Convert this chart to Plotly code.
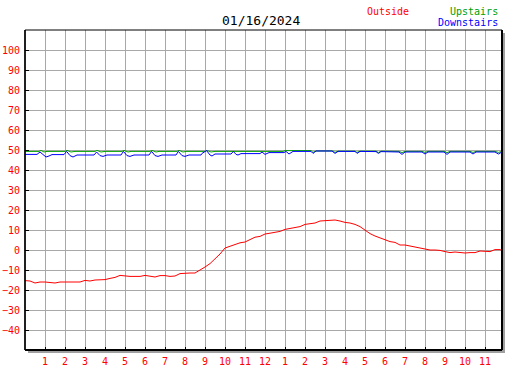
import plotly.graph_objects as go

# ---- data (hours since midnight, temperature) ----
outside_h = [0, 0.25, 0.5, 0.75, 1.0, 1.25, 1.5, 1.75, 2.0, 2.25, 2.5, 2.75, 3.0, 3.25, 3.5, 3.75,
             4.0, 4.25, 4.5, 4.75, 5.0, 5.25, 5.5, 5.75, 6.0, 6.25, 6.5, 6.75, 7.0, 7.25, 7.5, 7.75,
             8.0, 8.25, 8.5, 8.75, 9.0, 9.25, 9.5, 9.75, 10.0, 10.25, 10.5, 10.75, 11.0, 11.25, 11.5, 11.75,
             12.0, 12.25, 12.5, 12.75, 13.0, 13.25, 13.5, 13.75, 14.0, 14.25, 14.5, 14.75, 15.0, 15.25, 15.5, 15.75,
             16.0, 16.25, 16.5, 16.75, 17.0, 17.25, 17.5, 17.75, 18.0, 18.25, 18.5, 18.75, 19.0, 19.25, 19.5, 19.75,
             20.0, 20.25, 20.5, 20.75, 21.0, 21.25, 21.5, 21.75, 22.0, 22.25, 22.5, 22.75, 23.0, 23.25, 23.5, 23.75, 23.85]
outside_v = [-15.3, -15.5, -16.5, -16.0, -16.0, -16.2, -16.5, -16.0, -16.0, -16.0, -16.0, -16.0, -15.2, -15.5, -15.0, -15.0,
             -14.8, -14.2, -13.7, -12.7, -13.0, -13.2, -13.2, -13.2, -12.7, -13.0, -13.5, -12.8, -12.8, -13.2, -13.0, -11.8,
             -11.5, -11.5, -11.5, -10.2, -8.5, -6.8, -4.5, -2.0, 1.0, 2.0, 3.0, 3.6, 4.0, 5.2, 6.4, 6.8,
             8.0, 8.4, 9.0, 9.3, 10.3, 10.8, 11.2, 11.7, 12.8, 13.0, 13.5, 14.5, 14.6, 15.0, 15.0, 14.5,
             13.8, 13.5, 12.8, 11.7, 10.0, 8.2, 7.0, 6.0, 5.0, 4.2, 3.8, 2.5, 2.5, 2.0, 1.2, 0.8,
             0.3, 0.0, 0.0, -0.2, -0.8, -1.3, -1.0, -1.3, -1.5, -1.3, -1.3, -0.5, -0.8, -0.8, 0.2, 0.2, -0.3]

upstairs_h = [0, 0.7, 0.8, 0.95, 1.1, 2.0, 2.1, 2.3, 2.5, 3.5, 3.6, 3.8, 4.0, 4.85, 4.95, 5.15, 5.3,
              6.25, 6.35, 6.55, 6.7, 7.6, 7.7, 7.9, 8.05, 9.0, 9.1, 9.3, 9.5, 12.9, 13.0, 14.3, 14.4, 14.55,
              15.4, 15.5, 15.65, 16.5, 16.6, 16.75, 17.55, 17.67, 17.8, 18.7, 18.85, 19.0, 19.85, 20.0, 20.15,
              20.95, 21.1, 21.25, 22.25, 22.4, 22.55, 23.5, 23.67, 23.85]
upstairs_v = [49.3, 49.3, 49.8, 49.0, 49.3, 49.3, 49.8, 49.0, 49.3, 49.3, 49.8, 49.0, 49.3, 49.3, 49.8, 49.0, 49.3,
              49.3, 49.8, 49.0, 49.3, 49.3, 49.8, 49.0, 49.3, 49.3, 49.8, 49.0, 49.3, 49.3, 49.7, 49.7, 48.8, 49.5,
              49.5, 48.8, 49.4, 49.4, 48.8, 49.4, 49.4, 48.8, 49.4, 49.3, 48.7, 49.3, 49.3, 48.8, 49.3,
              49.3, 48.7, 49.3, 49.3, 48.8, 49.3, 49.3, 48.8, 49.3]

downstairs_h = [0, 0.6, 0.75, 0.9, 1.05, 1.2, 1.35, 1.95, 2.08, 2.25, 2.4, 2.6, 3.45, 3.58, 3.75, 3.9, 4.1,
                4.8, 4.92, 5.1, 5.25, 5.45, 6.2, 6.33, 6.5, 6.65, 6.85, 7.55, 7.67, 7.85, 8.0, 8.2, 8.8, 8.85,
                9.08, 9.25, 9.35, 9.5, 10.3, 10.42, 10.55, 10.65, 10.8, 11.75, 11.85, 12.0, 12.2, 12.95, 13.05,
                13.2, 13.4, 14.3, 14.4, 14.55, 15.35, 15.5, 15.65, 16.5, 16.6, 16.75, 17.55, 17.67, 17.8,
                18.7, 18.85, 19.0, 19.85, 20.0, 20.15, 20.95, 21.1, 21.25, 22.25, 22.4, 22.55, 23.5, 23.67, 23.85]
downstairs_v = [47.8, 47.8, 49.0, 47.5, 46.5, 47.0, 47.7, 47.7, 49.3, 47.2, 46.5, 47.5, 47.5, 49.0, 47.2, 46.8, 47.5,
                47.5, 49.3, 47.2, 46.8, 47.5, 47.5, 49.3, 47.2, 46.8, 47.5, 47.5, 49.3, 47.2, 46.8, 47.5, 47.5, 48.3,
                49.7, 47.5, 47.0, 48.0, 48.0, 49.3, 47.8, 47.5, 48.2, 48.2, 49.0, 47.8, 48.7, 48.7, 49.3,
                48.0, 49.3, 49.3, 48.3, 49.5, 49.5, 48.3, 49.3, 49.3, 48.3, 49.3, 49.2, 48.3, 49.2,
                49.0, 47.8, 49.0, 49.0, 48.0, 49.0, 49.0, 47.8, 49.0, 49.0, 48.0, 49.0, 49.0, 48.0, 49.0]

x_tickvals = list(range(1, 24))
x_ticktext = [str(i) for i in range(1, 12)] + ["12"] + [str(i) for i in range(1, 12)]
y_tickvals = list(range(-40, 101, 10))

title_text = "01/16/2024"
FONT = "DejaVu Sans Mono"

W, H = 527, 370
L, R, T, B = 25, 502, 30, 350  # plot area in pixels

def px(xp):
    return (xp - L) / (R - L)

def py(yp):
    return (B - yp) / (B - T)

fig = go.Figure()
fig.add_trace(go.Scatter(x=outside_h, y=outside_v, mode="lines", name="Outside",
                         line=dict(color="#ff0000", width=1)))
fig.add_trace(go.Scatter(x=upstairs_h, y=upstairs_v, mode="lines", name="Upstairs",
                         line=dict(color="#00a000", width=1)))
fig.add_trace(go.Scatter(x=downstairs_h, y=downstairs_v, mode="lines", name="Downstairs",
                         line=dict(color="#0000ff", width=1)))

shapes = [
    # shadow
    dict(type="rect", xref="paper", yref="paper", x0=px(R), x1=px(R + 3), y0=py(B + 3), y1=py(T + 3),
         fillcolor="#a0a0a0", line=dict(width=0), layer="below"),
    dict(type="rect", xref="paper", yref="paper", x0=px(L + 3), x1=px(R + 3), y0=py(B + 3), y1=py(B),
         fillcolor="#a0a0a0", line=dict(width=0), layer="below"),
    # frame
    dict(type="rect", xref="paper", yref="paper", x0=0, x1=1, y0=0, y1=1,
         line=dict(color="black", width=1)),
    dict(type="line", xref="paper", yref="paper", x0=0, x1=1, y0=0, y1=0,
         line=dict(color="black", width=2)),
    dict(type="line", xref="paper", yref="paper", x0=1, x1=1, y0=0, y1=1,
         line=dict(color="black", width=2)),
    dict(type="line", xref="paper", yref="paper", x0=0, x1=0, y0=0, y1=1,
         line=dict(color="black", width=1.5)),
]

annotations = [
    dict(text=title_text, xref="paper", yref="paper", x=px(261), y=py(20), showarrow=False,
         xanchor="center", yanchor="middle", font=dict(family=FONT, size=13, color="black")),
    dict(text="Outside", xref="paper", yref="paper", x=px(411), y=py(11), showarrow=False,
         xanchor="right", yanchor="middle", font=dict(family=FONT, size=10, color="#ff0000")),
    dict(text="Upstairs", xref="paper", yref="paper", x=px(500), y=py(11), showarrow=False,
         xanchor="right", yanchor="middle", font=dict(family=FONT, size=10, color="#00a000")),
    dict(text="Downstairs", xref="paper", yref="paper", x=px(500), y=py(23), showarrow=False,
         xanchor="right", yanchor="middle", font=dict(family=FONT, size=10, color="#0000ff")),
]

fig.update_layout(
    width=W, height=H,
    margin=dict(l=L, r=W - R, t=T, b=H - B, pad=0, autoexpand=False),
    paper_bgcolor="white", plot_bgcolor="white",
    showlegend=False,
    shapes=shapes, annotations=annotations,
    xaxis=dict(range=[0, 23.85], tickmode="array", tickvals=x_tickvals, ticktext=x_ticktext,
               showgrid=True, gridcolor="#a8a8a8", gridwidth=1, zeroline=False,
               ticks="inside", ticklen=3, tickcolor="black", tickwidth=1, showline=False,
               tickfont=dict(family=FONT, size=10, color="#ff0000"), ticklabelstandoff=4,
               automargin=False, fixedrange=True),
    yaxis=dict(range=[-50, 110], tickmode="array", tickvals=y_tickvals,
               showgrid=True, gridcolor="#a8a8a8", gridwidth=1, zeroline=False,
               ticks="inside", ticklen=4, tickcolor="black", tickwidth=1, showline=False,
               tickfont=dict(family=FONT, size=10, color="#ff0000"), ticklabelstandoff=4,
               automargin=False, fixedrange=True),
)

fig.write_html("out.html", config={"displayModeBar": False},
               post_script="document.body.style.margin='0';document.body.style.overflow='hidden';")
